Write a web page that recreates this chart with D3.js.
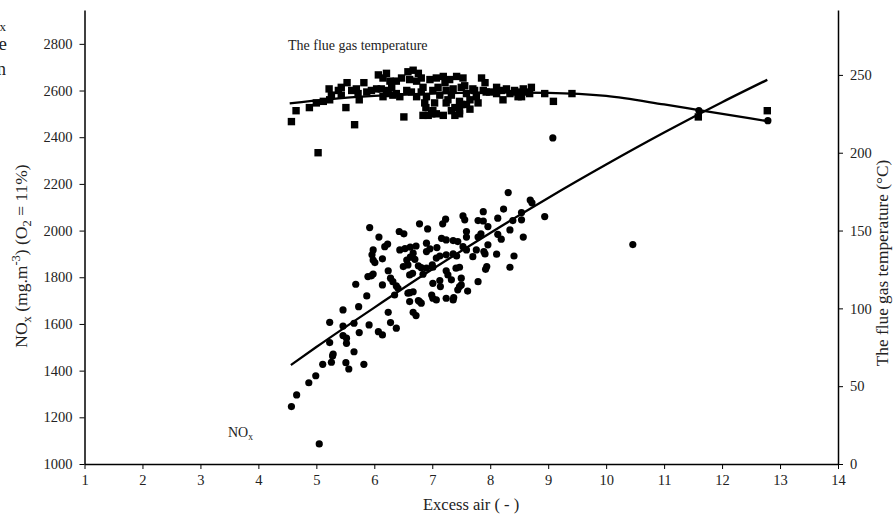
<!DOCTYPE html>
<html>
<head>
<meta charset="utf-8">
<script src="https://d3js.org/d3.v7.min.js"></script>
<style>
  body { margin: 0; background: #fff; }
  svg text { font-family: "Liberation Serif", "Times New Roman", serif; fill: #222; }
</style>
</head>
<body>
<div id="chart"></div>
<script>
// NOx points (excess air, mg/m3)
var noxX = [8.31, 8.69, 8.72, 7.88, 8.23, 8.54, 8.94, 7.53, 7.56, 7.23, 7.18, 6.78, 6.92, 5.92, 6.43, 6.51,
    7.79, 7.88, 8.13, 8.39, 8.54, 7.96, 8.34, 7.59, 7.59, 7.84, 7.79, 8.13, 8.19, 8.57, 6.08, 6.18,
    6.23, 7.16, 7.24, 7.36, 7.44, 7.53, 7.59, 6.90, 6.96, 6.90, 6.44, 6.53, 6.62, 6.72, 5.98, 5.96,
    5.98, 7.08, 6.67, 6.62, 6.70, 7.13, 7.07, 7.24, 7.36, 7.42, 7.76, 7.70, 7.89, 7.91, 7.96, 8.11,
    8.41, 6.14, 6.24, 6.50, 6.58, 6.76, 6.81, 6.90, 7.00, 7.01, 6.66, 6.61, 6.84, 7.24, 7.27, 7.33,
    7.41, 7.47, 7.13, 7.14, 7.50, 7.50, 7.79, 7.92, 7.94, 8.34, 5.89, 5.95, 6.28, 6.32, 5.68, 6.14,
    6.38, 6.41, 5.87, 6.35, 6.61, 6.67, 6.61, 6.78, 6.81, 6.76, 6.99, 7.01, 7.07, 7.01, 7.24, 7.36,
    7.37, 7.44, 7.47, 7.61, 5.73, 5.46, 6.24, 6.67, 6.72, 5.23, 5.46, 5.65, 5.91, 6.28, 6.38, 5.74,
    6.07, 6.14, 5.46, 5.52, 5.23, 5.52, 5.29, 5.28, 5.65, 5.11, 5.26, 5.51, 5.56, 5.82, 4.99, 4.87,
    4.66, 4.57, 5.05, 9.08, 11.60, 12.79, 10.46, 6.01, 6.56, 5.98, 6.58];
var noxY = [2163, 2131, 2119, 2081, 2092, 2077, 2060, 2063, 2046, 2049, 2029, 2029, 2007, 2013, 1996, 1986,
    2043, 2041, 2053, 2043, 2046, 2017, 2003, 1996, 1972, 1986, 1972, 1984, 1963, 1972, 1972, 1931,
    1942, 1967, 1960, 1957, 1953, 1931, 1917, 1946, 1922, 1910, 1917, 1923, 1929, 1934, 1917, 1896,
    1874, 1927, 1903, 1886, 1877, 1891, 1882, 1896, 1900, 1891, 1917, 1888, 1910, 1900, 1939, 1899,
    1891, 1879, 1828, 1846, 1853, 1849, 1841, 1839, 1853, 1843, 1817, 1810, 1813, 1828, 1810, 1789,
    1839, 1843, 1786, 1760, 1796, 1767, 1781, 1834, 1846, 1843, 1803, 1806, 1796, 1781, 1770, 1767,
    1763, 1753, 1720, 1724, 1734, 1738, 1696, 1696, 1689, 1700, 1724, 1710, 1703, 1774, 1710, 1703,
    1713, 1746, 1760, 1741, 1674, 1660, 1650, 1650, 1636, 1607, 1591, 1603, 1596, 1606, 1582, 1563,
    1567, 1553, 1550, 1539, 1520, 1517, 1471, 1463, 1481, 1427, 1436, 1434, 1407, 1427, 1378, 1348,
    1296, 1246, 1086, 2397, 2514, 2471, 1940, 1863, 1874, 1814, 1732];

// flue gas temperature points (excess air, deg C)
var tempX = [4.57, 4.65, 4.88, 5.00, 5.12, 5.23, 5.26, 5.22, 5.51, 5.66, 5.53, 5.38, 5.43, 5.43, 5.61, 5.69,
    5.72, 5.74, 5.82, 5.87, 5.95, 6.04, 6.07, 6.21, 6.15, 6.27, 6.12, 6.21, 6.30, 6.15, 6.24, 6.32,
    6.38, 6.47, 6.38, 6.44, 6.51, 6.58, 6.67, 6.76, 6.61, 6.73, 6.56, 6.64, 6.73, 6.81, 6.84, 6.81,
    6.90, 6.89, 6.87, 6.84, 6.93, 7.01, 7.04, 6.96, 7.07, 7.10, 7.01, 7.13, 6.99, 7.07, 7.19, 7.22,
    7.24, 7.27, 7.24, 7.19, 7.33, 7.39, 7.47, 7.50, 7.30, 7.36, 7.33, 7.39, 7.47, 7.47, 7.42, 7.53,
    7.56, 7.50, 7.59, 7.65, 7.65, 7.59, 7.70, 7.76, 7.79, 7.73, 7.85, 7.91, 7.88, 7.93, 7.99, 8.11,
    8.11, 8.19, 8.22, 8.28, 8.34, 8.42, 8.45, 8.48, 8.51, 8.54, 8.57, 8.62, 8.71, 8.68, 8.94, 9.09,
    9.41, 11.59, 12.78, 5.03];
var tempY = [220, 227, 229, 232, 233, 234, 237, 241, 229, 218, 245, 240, 242, 237, 240, 241,
    238, 234, 245, 239, 240, 241, 250, 251, 248, 246, 241, 240, 242, 236, 238, 237,
    246, 248, 238, 236, 223, 252, 253, 251, 247, 246, 240, 239, 236, 248, 242, 239,
    236, 229, 232, 224, 224, 227, 232, 247, 248, 242, 240, 237, 225, 225, 249, 245,
    240, 234, 232, 224, 227, 224, 227, 231, 247, 241, 237, 229, 233, 225, 249, 248,
    243, 242, 238, 234, 228, 231, 241, 236, 232, 240, 248, 245, 240, 239, 239, 242,
    238, 240, 234, 241, 238, 240, 239, 236, 238, 236, 241, 239, 242, 238, 238, 233,
    238, 223, 227, 200];

// trend lines
var noxTrendX = [4.56, 5, 6, 7, 8, 9, 10, 11, 12, 12.78];
var noxTrendY = [1424, 1501, 1670, 1834, 1990, 2140, 2283, 2420, 2550, 2646];
var tempTrendX = [4.54, 5.2, 6, 7, 8, 9, 10, 11, 11.6, 12.78];
var tempTrendY = [231.7, 234.3, 236.5, 238, 238.8, 238.5, 236.5, 231, 227.4, 220.3];

var xTicks = d3.range(1, 15);
var noxTicks = [1000, 1200, 1400, 1600, 1800, 2000, 2200, 2400, 2600, 2800];
var tempTicks = [0, 50, 100, 150, 200, 250];

var width = 896,
    height = 520;

var svg = d3.select("#chart").append("svg")
    .attr("width", width)
    .attr("height", height);

var x = d3.scaleLinear().domain([1, 14]).range([84.5, 838]);
var yNox = d3.scaleLinear().domain([1000, 2945]).range([464, 10]);
var yTemp = d3.scaleLinear().domain([0, 291.7]).range([464, 10]);

// axes
var gx = svg.append("g")
    .attr("transform", "translate(0,464)")
    .call(d3.axisBottom(x).tickValues(xTicks).tickFormat(d3.format("d"))
        .tickSize(5).tickSizeOuter(0).tickPadding(6));
var gl = svg.append("g")
    .attr("transform", "translate(84.5,0)")
    .call(d3.axisLeft(yNox).tickValues(noxTicks).tickFormat(d3.format("d"))
        .tickSize(5).tickSizeOuter(0).tickPadding(7));
var gr = svg.append("g")
    .attr("transform", "translate(838,0)")
    .call(d3.axisRight(yTemp).tickValues(tempTicks).tickFormat(d3.format("d"))
        .tickSize(5).tickSizeOuter(0).tickPadding(7));

[gx, gl, gr].forEach(function(g) {
    g.attr("font-family", null);
    g.select(".domain").attr("stroke", "#000").attr("stroke-width", 1.5);
    g.selectAll(".tick line").attr("stroke", "#000");
    g.selectAll(".tick text").style("font-size", "14.5px").attr("fill", "#222");
});

// trend lines
var line = d3.line().curve(d3.curveMonotoneX);
svg.append("path")
    .attr("d", line(noxTrendX.map(function(d, i) { return [x(d), yNox(noxTrendY[i])]; })))
    .attr("fill", "none").attr("stroke", "#000").attr("stroke-width", 2.3);
svg.append("path")
    .attr("d", line(tempTrendX.map(function(d, i) { return [x(d), yTemp(tempTrendY[i])]; })))
    .attr("fill", "none").attr("stroke", "#000").attr("stroke-width", 2.3);

// markers
svg.append("g").selectAll("circle")
    .data(d3.range(noxX.length))
    .enter().append("circle")
    .attr("cx", function(i) { return x(noxX[i]); })
    .attr("cy", function(i) { return yNox(noxY[i]); })
    .attr("r", 3.6)
    .attr("fill", "#000");

var sq = 7.4;
svg.append("g").selectAll("rect")
    .data(d3.range(tempX.length))
    .enter().append("rect")
    .attr("x", function(i) { return x(tempX[i]) - sq / 2; })
    .attr("y", function(i) { return yTemp(tempY[i]) - sq / 2; })
    .attr("width", sq).attr("height", sq)
    .attr("fill", "#000");

// labels
svg.append("text")
    .attr("x", 288).attr("y", 50)
    .style("font-size", "14px")
    .text("The flue gas temperature");

var nl = svg.append("text").attr("x", 228).attr("y", 437).style("font-size", "14px");
nl.append("tspan").text("NO");
nl.append("tspan").attr("dy", 3).style("font-size", "9.5px").text("x");

svg.append("text")
    .attr("x", 423).attr("y", 510)
    .style("font-size", "16.5px")
    .text("Excess air ( - )");

var lt = svg.append("text")
    .attr("transform", "translate(27,256) rotate(-90)")
    .attr("text-anchor", "middle")
    .style("font-size", "17.5px");
lt.append("tspan").text("NO");
lt.append("tspan").attr("dy", 4).style("font-size", "12.5px").text("x");
lt.append("tspan").attr("dy", -4).text(" (mg.m");
lt.append("tspan").attr("dy", -7).style("font-size", "12.5px").text("-3");
lt.append("tspan").attr("dy", 7).text(") (O");
lt.append("tspan").attr("dy", 4).style("font-size", "12.5px").text("2");
lt.append("tspan").attr("dy", -4).text(" = 11%)");

svg.append("text")
    .attr("transform", "translate(888,263) rotate(-90)")
    .attr("text-anchor", "middle")
    .style("font-size", "17.3px")
    .text("The flue gas temperature (\u00B0C)");

// cut-off text at the left edge
svg.append("text").attr("x", 6).attr("y", 31).attr("text-anchor", "end").style("font-size", "13px").text("x");
svg.append("text").attr("x", 7).attr("y", 50).attr("text-anchor", "end").style("font-size", "19px").text("e");
svg.append("text").attr("x", 6).attr("y", 75).attr("text-anchor", "end").style("font-size", "18px").text("n");
</script>
</body>
</html>
